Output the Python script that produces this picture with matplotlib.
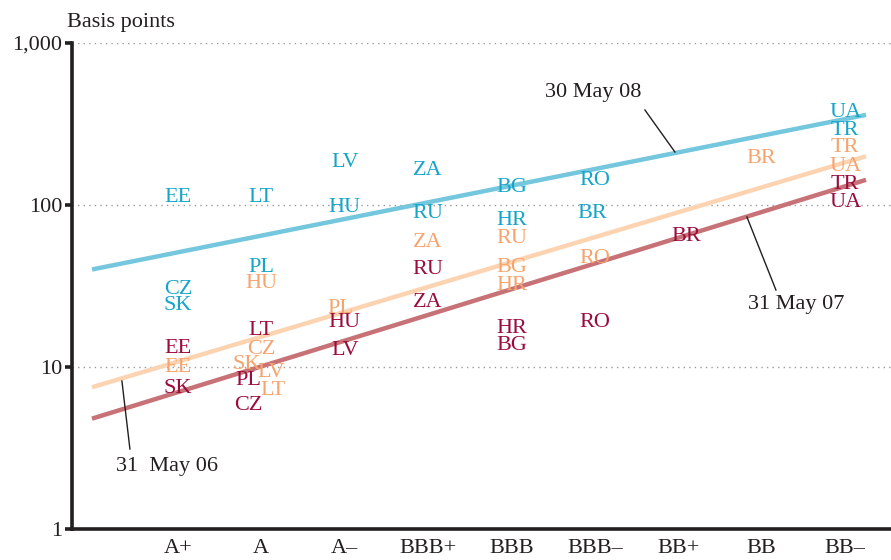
import matplotlib
matplotlib.use("Agg")
import matplotlib.pyplot as plt
import numpy as np

# ---------------- data ----------------
ratings = ["A+", "A", "A\u2013", "BBB+", "BBB", "BBB\u2013", "BB+", "BB", "BB\u2013"]

# 30 May 08 (blue)
c08 = ["EE", "CZ", "SK", "LT", "PL", "LV", "HU", "ZA", "RU", "BG", "HR", "RO", "BR", "UA", "TR"]
r08 = ["A+", "A+", "A+", "A", "A", "A\u2013", "A\u2013", "BBB+", "BBB+", "BBB", "BBB", "BBB\u2013", "BBB\u2013", "BB\u2013", "BB\u2013"]
v08 = [112, 30, 24, 112, 41, 182, 97, 164, 89, 129, 80, 141, 89, 375, 290]

# 31 May 07 (peach)
c07 = ["EE", "HU", "CZ", "SK", "LV", "LT", "PL", "ZA", "RU", "BG", "HR", "RO", "BR", "TR", "UA"]
r07 = ["A+", "A", "A", "A", "A", "A", "A\u2013", "BBB+", "BBB", "BBB", "BBB", "BBB\u2013", "BB", "BB\u2013", "BB\u2013"]
v07 = [9.9, 33, 12.9, 10.4, 9.3, 7.2, 23, 59, 62, 41, 32, 47, 195, 225, 172]

# 31 May 06 (dark red)
c06 = ["EE", "SK", "LT", "PL", "CZ", "HU", "LV", "RU", "ZA", "HR", "BG", "RO", "BR", "TR", "UA"]
r06 = ["A+", "A+", "A", "A", "A", "A\u2013", "A\u2013", "BBB+", "BBB+", "BBB", "BBB", "BBB\u2013", "BB+", "BB\u2013", "BB\u2013"]
v06 = [13.1, 7.4, 16.9, 8.2, 5.8, 18.7, 12.7, 40, 25, 17.4, 13.5, 18.7, 64, 133, 104]

# fitted lines: values at the start and end of the rating scale
line_x = [-1.03, 8.25]
line08 = [40, 360]
line07 = [7.5, 200]
line06 = [4.8, 143]

# ---------------- style ----------------
serif = ["Liberation Serif", "DejaVu Serif"]
plt.rcParams["font.family"] = serif

blue_line, blue_txt = "#74C7DC", "#16A5C9"
peach_line, peach_txt = "#FDD4B2", "#F6A46E"
red_line, red_txt = "#C77276", "#9A0D3B"
ink = "#231F20"

# small x nudges (in category units) for crowded labels
nudge = {("07", "SK"): -0.18, ("07", "LV"): 0.12, ("07", "LT"): 0.14,
         ("06", "PL"): -0.15, ("06", "CZ"): -0.15, ("07", "PL"): -0.05,
         ("08", "BR"): -0.03, ("06", "BR"): 0.1}

fig = plt.figure(figsize=(8.91, 5.60), dpi=100)
ax = fig.add_axes([72 / 891, 31 / 560, 1 - 72 / 891, (529 - 43) / 560])

ax.set_yscale("log")
ax.set_ylim(1, 1000)
ax.set_xlim(-1.27, 8.55)

xpos = {r: i for i, r in enumerate(ratings)}


def px(xp, yp):
    """convert reference pixel position to data coordinates (for annotations)"""
    return (xp - 178) / 83.4, 10 ** ((529 - yp) / 162)


for yv in [10, 100, 1000]:
    ax.axhline(yv, color="#9a9a9a", lw=1.0, ls=(0, (1, 3)), zorder=0)

ax.plot(line_x, line08, color=blue_line, lw=3.2, solid_capstyle="butt", zorder=2)
ax.plot(line_x, line07, color=peach_line, lw=3.2, solid_capstyle="butt", zorder=2)
ax.plot(line_x, line06, color=red_line, lw=3.2, solid_capstyle="butt", zorder=2)

fs = 16
for tag, cs, rs, vs, col in [("08", c08, r08, v08, blue_txt),
                             ("07", c07, r07, v07, peach_txt),
                             ("06", c06, r06, v06, red_txt)]:
    for c, r, v in zip(cs, rs, vs):
        ax.text(xpos[r] + nudge.get((tag, c), 0), v, c, color=col, fontsize=fs,
                ha="center", va="center", zorder=3)

# annotations: label text and a thin leader line
for label, tpos, p0, p1 in [("30 May 08", (593, 93), (645, 110), (675, 152)),
                            ("31 May 07", (796, 305), (776, 290), (747, 217)),
                            ("31  May 06", (167, 467), (130, 449), (122, 381))]:
    ax.text(*px(*tpos), label, fontsize=fs, color=ink, ha="center", va="center", zorder=4)
    a, b = px(*p0), px(*p1)
    ax.plot([a[0], b[0]], [a[1], b[1]], color=ink, lw=1.0, zorder=4)

# axes styling
for s in ["top", "right"]:
    ax.spines[s].set_visible(False)
for s in ["left", "bottom"]:
    ax.spines[s].set_linewidth(2.6)
    ax.spines[s].set_color(ink)

ax.set_yticks([1, 10, 100, 1000])
ax.set_yticklabels(["1", "10", "100", "1,000"])
ax.yaxis.set_minor_locator(matplotlib.ticker.NullLocator())
ax.tick_params(axis="y", length=5, width=2.6, color=ink, labelsize=fs, labelcolor=ink, pad=2)

ax.set_xticks(range(len(ratings)))
ax.set_xticklabels(ratings)
ax.tick_params(axis="x", length=0, labelsize=fs, labelcolor=ink, pad=7)

fig.text(67 / 891, 1 - 22 / 560, "Basis points", fontsize=fs, color=ink, ha="left", va="center")

fig.savefig("out.png", dpi=100)
